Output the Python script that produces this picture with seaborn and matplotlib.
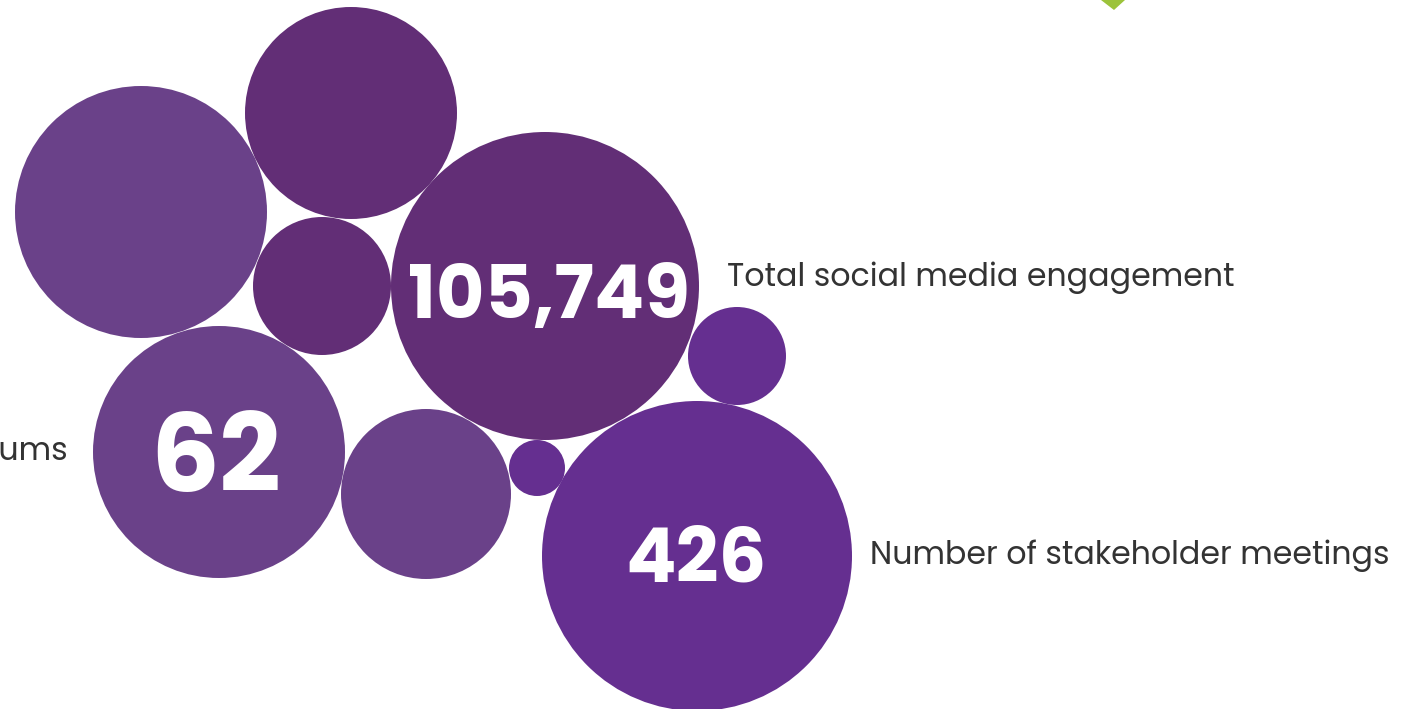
import matplotlib
matplotlib.use("Agg")
import matplotlib.pyplot as plt
from matplotlib.patches import Circle, Polygon
import seaborn as sns

sns.set_theme(style="white")
plt.rcParams["font.family"] = ["Poppins", "Open Sans", "DejaVu Sans"]

# Bubble layout (pixel-space coordinates, y grows downward)
bubble_x = [141, 351, 322, 545, 737, 219, 426, 537, 697]
bubble_y = [212, 113, 286, 286, 356, 452, 494, 468, 556]
bubble_r = [126, 106, 69, 154, 49, 126, 85, 28, 155]
bubble_tone = ["soft", "deep", "deep", "deep", "vivid", "soft", "soft", "vivid", "vivid"]

tone_colors = {"soft": "#6a4189", "deep": "#622e76", "vivid": "#652f90"}

# Highlighted figures shown inside bubbles
stat_values = ["105,749", "62", "426"]
stat_bubble = [3, 5, 8]
stat_sizes = [53.5, 78, 54]
stat_dx = [4, -3, -1]
stat_dy = [14, 13, 7]
stat_labels = ["Total social media engagement", "Number of community forums",
               "Number of stakeholder meetings"]
label_x = [727, 68, 870]
label_y = [278, 452, 556]
label_ha = ["left", "right", "left"]

fig = plt.figure(figsize=(14.07, 7.09), dpi=100)
ax = fig.add_axes([0, 0, 1, 1])
ax.set_xlim(0, 1407)
ax.set_ylim(709, 0)
ax.set_aspect("equal")
ax.axis("off")

for x, y, r, t in zip(bubble_x, bubble_y, bubble_r, bubble_tone):
    ax.add_patch(Circle((x, y), r, facecolor=tone_colors[t], edgecolor="none"))

for val, b, fs, dx, dy in zip(stat_values, stat_bubble, stat_sizes, stat_dx, stat_dy):
    ax.text(bubble_x[b] + dx, bubble_y[b] + dy, val, ha="center", va="center",
            color="white", fontsize=fs, fontweight="bold")

for lab, x, y, ha in zip(stat_labels, label_x, label_y, label_ha):
    ax.text(x, y, lab, ha=ha, va="center", color="#333333", fontsize=22.8)

# small green accent peeking in from the top edge
ax.add_patch(Polygon([(1101, 0), (1125, 0), (1114, 10)], closed=True,
                     facecolor="#9cc33b", edgecolor="none"))

fig.savefig("out.png", dpi=100)
